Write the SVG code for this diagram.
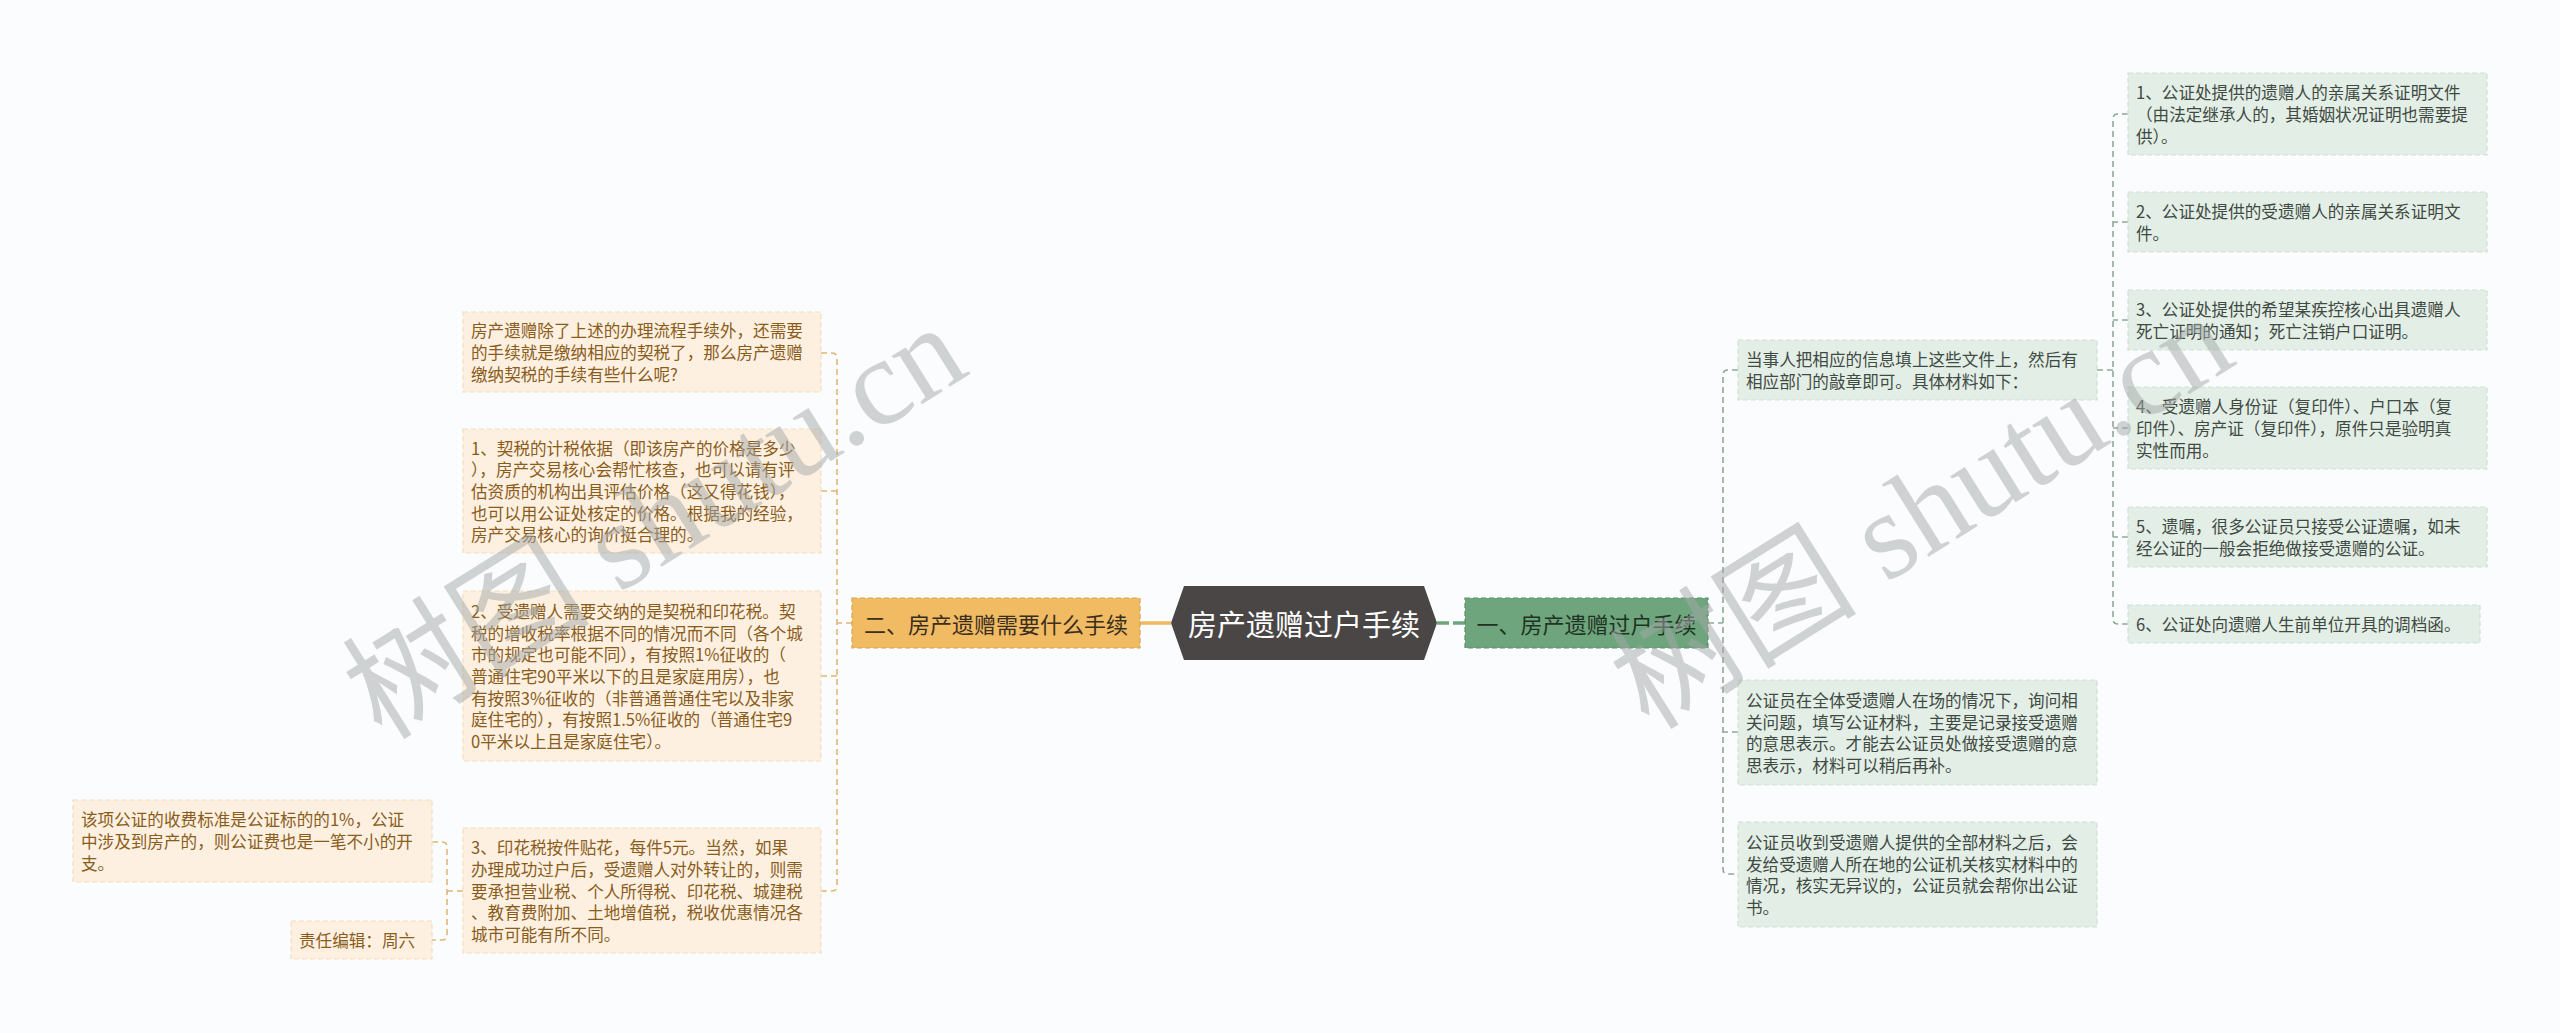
<svg xmlns="http://www.w3.org/2000/svg" width="2560" height="1033" viewBox="0 0 2560 1033">
<style>
text{font-family:"Noto Sans CJK SC","Noto Sans",sans-serif;dominant-baseline:central}
.lb{fill:#fdf0e0;stroke:#f5dcbc;stroke-width:1.2;stroke-dasharray:5 3}
.rb{fill:#e3eee6;stroke:#cfdfd4;stroke-width:1.2;stroke-dasharray:5 3}
.lt{font-size:16.6px;fill:#8a5c1c}
.rt{font-size:16.6px;fill:#3f4a43}
.lc{fill:none;stroke:#e2b574;stroke-width:1.6;stroke-dasharray:6 4}
.rc{fill:none;stroke:#8ea996;stroke-width:1.6;stroke-dasharray:6 4}
.wm{font-family:"Liberation Serif","Noto Sans CJK SC",serif;font-size:124px;fill:#a3a8a8;fill-opacity:0.5}
</style>
<rect width="2560" height="1033" fill="#fbfcfd"/>
<g id="connectors">
<line x1="1140" y1="623" x2="1171" y2="623" stroke="#f0b960" stroke-width="3.5"/>
<line x1="1437" y1="623" x2="1465" y2="623" stroke="#6ea57c" stroke-width="3.5" stroke-dasharray="12 4"/>
<path class="lc" d="M852 623H837M821 353H832Q837 353 837 358V886Q837 891 832 891H821M821 491H837M821 676H837"/>
<path class="lc" d="M463 891H447M432 842H442Q447 842 447 847V935Q447 940 442 940H432"/>
<path class="rc" d="M1708 623H1723M1738 370H1728Q1723 370 1723 375V869Q1723 874 1728 874H1738M1738 732H1723"/>
<path class="rc" d="M2097 370H2113M2128 114H2118Q2113 114 2113 119V619Q2113 624 2118 624H2128M2128 222H2113M2128 320H2113M2128 428H2113M2128 537H2113"/>
</g>
<g id="center">
<polygon points="1171,623 1184,586 1424,586 1437,623 1424,660 1184,660" fill="#4a4646"/>
<text x="1304" y="623" text-anchor="middle" style="font-size:29px;fill:#ffffff">房产遗赠过户手续</text>
</g>
<g id="branch-left">
<rect x="852" y="598" width="288" height="50" fill="#f1bb64" stroke="#d9a04a" stroke-width="1.2" stroke-dasharray="5 3"/>
<text x="996" y="623" text-anchor="middle" style="font-size:22px;fill:#3a2e1c">二、房产遗赠需要什么手续</text>
</g>
<g id="branch-right">
<rect x="1465" y="598" width="243" height="50" fill="#6ea57c" stroke="#5b8e69" stroke-width="1.2" stroke-dasharray="5 3"/>
<text x="1586.5" y="623" text-anchor="middle" style="font-size:22px;fill:#1f3325">一、房产遗赠过户手续</text>
</g>
<g id="L1">
<rect class="lb" x="463" y="312" width="358" height="80"/>
<text class="lt"><tspan x="471" y="330.3">房产遗赠除了上述的办理流程手续外，还需要</tspan><tspan x="471" y="352">的手续就是缴纳相应的契税了，那么房产遗赠</tspan><tspan x="471" y="373.7">缴纳契税的手续有些什么呢?</tspan></text>
</g>
<g id="L2">
<rect class="lb" x="463" y="429" width="358" height="124"/>
<text class="lt"><tspan x="471" y="447.6">1、契税的计税依据（即该房产的价格是多少</tspan><tspan x="471" y="469.3">），房产交易核心会帮忙核查，也可以请有评</tspan><tspan x="471" y="491">估资质的机构出具评估价格（这又得花钱），</tspan><tspan x="471" y="512.7">也可以用公证处核定的价格。根据我的经验，</tspan><tspan x="471" y="534.4">房产交易核心的询价挺合理的。</tspan></text>
</g>
<g id="L3">
<rect class="lb" x="463" y="591" width="358" height="170"/>
<text class="lt"><tspan x="471" y="610.9">2、受遗赠人需要交纳的是契税和印花税。契</tspan><tspan x="471" y="632.6">税的增收税率根据不同的情况而不同（各个城</tspan><tspan x="471" y="654.3">市的规定也可能不同），有按照1%征收的（</tspan><tspan x="471" y="676">普通住宅90平米以下的且是家庭用房），也</tspan><tspan x="471" y="697.7">有按照3%征收的（非普通普通住宅以及非家</tspan><tspan x="471" y="719.4">庭住宅的），有按照1.5%征收的（普通住宅9</tspan><tspan x="471" y="741.1">0平米以上且是家庭住宅）。</tspan></text>
</g>
<g id="L4">
<rect class="lb" x="463" y="828" width="358" height="125"/>
<text class="lt"><tspan x="471" y="847.1">3、印花税按件贴花，每件5元。当然，如果</tspan><tspan x="471" y="868.8">办理成功过户后，受遗赠人对外转让的，则需</tspan><tspan x="471" y="890.5">要承担营业税、个人所得税、印花税、城建税</tspan><tspan x="471" y="912.2">、教育费附加、土地增值税，税收优惠情况各</tspan><tspan x="471" y="933.9">城市可能有所不同。</tspan></text>
</g>
<g id="LL1">
<rect class="lb" x="73" y="800" width="359" height="82"/>
<text class="lt"><tspan x="81" y="819.3">该项公证的收费标准是公证标的的1%，公证</tspan><tspan x="81" y="841">中涉及到房产的，则公证费也是一笔不小的开</tspan><tspan x="81" y="862.7">支。</tspan></text>
</g>
<g id="LL2">
<rect class="lb" x="291" y="921" width="141" height="38"/>
<text class="lt" x="299" y="940">责任编辑：周六</text>
</g>
<g id="R1">
<rect class="rb" x="1738" y="340" width="359" height="60"/>
<text class="rt"><tspan x="1746" y="359.2">当事人把相应的信息填上这些文件上，然后有</tspan><tspan x="1746" y="380.9">相应部门的敲章即可。具体材料如下：</tspan></text>
</g>
<g id="R2">
<rect class="rb" x="1738" y="680" width="359" height="105"/>
<text class="rt"><tspan x="1746" y="700">公证员在全体受遗赠人在场的情况下，询问相</tspan><tspan x="1746" y="721.7">关问题，填写公证材料，主要是记录接受遗赠</tspan><tspan x="1746" y="743.4">的意思表示。才能去公证员处做接受遗赠的意</tspan><tspan x="1746" y="765.1">思表示，材料可以稍后再补。</tspan></text>
</g>
<g id="R3">
<rect class="rb" x="1738" y="822" width="359" height="105"/>
<text class="rt"><tspan x="1746" y="842">公证员收到受遗赠人提供的全部材料之后，会</tspan><tspan x="1746" y="863.7">发给受遗赠人所在地的公证机关核实材料中的</tspan><tspan x="1746" y="885.4">情况，核实无异议的，公证员就会帮你出公证</tspan><tspan x="1746" y="907.1">书。</tspan></text>
</g>
<g id="RR1">
<rect class="rb" x="2128" y="73" width="359" height="82"/>
<text class="rt"><tspan x="2136" y="92.3">1、公证处提供的遗赠人的亲属关系证明文件</tspan><tspan x="2136" y="114">（由法定继承人的，其婚姻状况证明也需要提</tspan><tspan x="2136" y="135.7">供）。</tspan></text>
</g>
<g id="RR2">
<rect class="rb" x="2128" y="192" width="359" height="60"/>
<text class="rt"><tspan x="2136" y="211.2">2、公证处提供的受遗赠人的亲属关系证明文</tspan><tspan x="2136" y="232.9">件。</tspan></text>
</g>
<g id="RR3">
<rect class="rb" x="2128" y="290" width="359" height="60"/>
<text class="rt"><tspan x="2136" y="309.2">3、公证处提供的希望某疾控核心出具遗赠人</tspan><tspan x="2136" y="330.9">死亡证明的通知；死亡注销户口证明。</tspan></text>
</g>
<g id="RR4">
<rect class="rb" x="2128" y="387" width="359" height="82"/>
<text class="rt"><tspan x="2136" y="406.3">4、受遗赠人身份证（复印件）、户口本（复</tspan><tspan x="2136" y="428">印件）、房产证（复印件），原件只是验明真</tspan><tspan x="2136" y="449.7">实性而用。</tspan></text>
</g>
<g id="RR5">
<rect class="rb" x="2128" y="507" width="359" height="60"/>
<text class="rt"><tspan x="2136" y="526.2">5、遗嘱，很多公证员只接受公证遗嘱，如未</tspan><tspan x="2136" y="547.9">经公证的一般会拒绝做接受遗赠的公证。</tspan></text>
</g>
<g id="RR6">
<rect class="rb" x="2128" y="605" width="352" height="38"/>
<text class="rt" x="2136" y="624">6、公证处向遗赠人生前单位开具的调档函。</text>
</g>
<g id="watermark">
<text class="wm" x="655" y="522" text-anchor="middle" transform="rotate(-32 655 522)">树图 shutu.cn</text>
<text class="wm" x="1922" y="512" text-anchor="middle" transform="rotate(-32 1922 512)">树图 shutu.cn</text>
</g>
</svg>
